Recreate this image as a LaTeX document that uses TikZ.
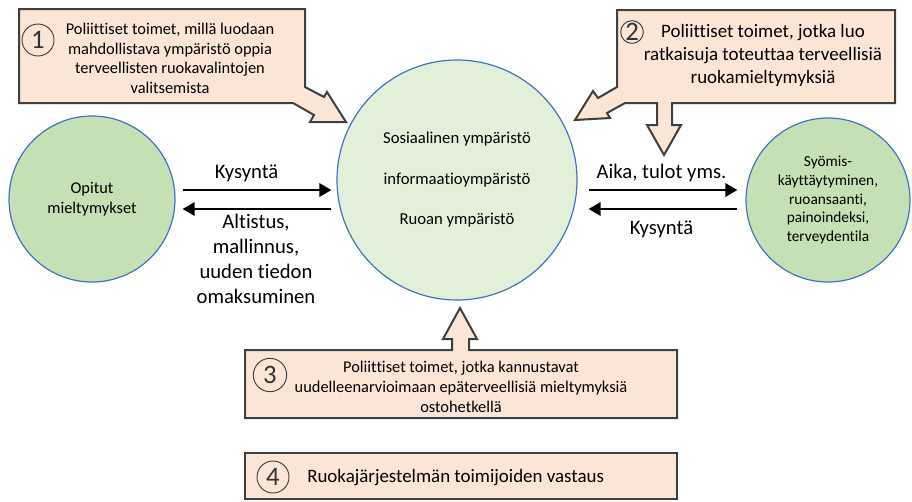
\documentclass[tikz,border=0pt]{standalone}
\usepackage{fontspec}
\setmainfont{Carlito}[Ligatures=NoCommon]
\usetikzlibrary{arrows.meta}
\definecolor{calloutfill}{HTML}{FBE5D6}
\definecolor{calloutline}{HTML}{3F3F3F}
\definecolor{envgreen}{HTML}{C5E0B4}
\definecolor{envpale}{HTML}{E2F0D9}
\definecolor{envline}{HTML}{4472C4}
\begin{document}
\begin{tikzpicture}[
		x=0.75pt, y=-0.75pt,
		callout/.style={draw=calloutline, fill=calloutfill, line width=1.5pt},
		env/.style={circle, draw=envline, line width=0.9pt, inner sep=0pt, align=center},
		num/.style={circle, draw=calloutline, line width=0.7pt, inner sep=0pt, text=black!80, font=\fontsize{20}{20}\selectfont},
		flow/.style={line width=1.6pt, -{Triangle[length=9pt,width=10pt]}},
		lbl/.style={inner sep=0pt, align=center, font=\fontsize{15.5}{18.75}\selectfont},
		small/.style={inner sep=0pt, align=center, font=\fontsize{12.3}{14.6}\selectfont},
		large/.style={inner sep=0pt, align=center, font=\fontsize{14.2}{17.25}\selectfont}
	]
	\useasboundingbox (0,0) rectangle (912,501);
	\draw[callout] (19,9) -- (305,9) -- (305,87) -- (324,97) -- (327,92) -- (346,122)
		-- (310,122) -- (314,115) -- (293,103) -- (19,103) -- cycle;
	\draw[callout] (617,10) -- (895,10) -- (895,103) -- (672,103) -- (672,125) -- (681,125)
		-- (664,155) -- (647,125) -- (657,125) -- (657,103) -- (625,103) -- (607,113)
		-- (610,118) -- (575,120) -- (593,91) -- (598,98) -- (617,87) -- cycle;
	\draw[callout] (245,350) -- (452,350) -- (452,339) -- (443,339) -- (460,308) -- (477,339)
		-- (469,339) -- (469,350) -- (677,350) -- (677,418) -- (245,418) -- cycle;
	\draw[callout] (245,453) rectangle (677,499);
	\node[num, minimum size=24pt] (n1) at (38,40) {1};
	\node[num, minimum size=17pt] (n2) at (632,32) {2};
	\node[num, minimum size=25pt] (n3) at (270,375) {3};
	\node[num, minimum size=24pt] (n4) at (273,477) {4};
	\node[small, anchor=north] (t1) at (170,23) {Poliittiset toimet, millä luodaan\\mahdollistava ympäristö oppia\\terveellisten ruokavalintojen\\valitsemista};
	\node[large, anchor=north] (t2) at (763,24) {Poliittiset toimet, jotka luo\\ratkaisuja toteuttaa terveellisiä\\ruokamieltymyksiä};
	\node[small, anchor=north, font=\fontsize{12.3}{15}\selectfont] (t3) at (461,361) {Poliittiset toimet, jotka kannustavat\\uudelleenarvioimaan epäterveellisiä mieltymyksiä\\ostohetkellä};
	\node[large, anchor=base west] (t4) at (307,482) {Ruokajärjestelmän toimijoiden vastaus};
	\node[env, fill=envpale, minimum size=180pt, font=\fontsize{12.5}{30.4}\selectfont] (sos) at (457,180) {Sosiaalinen ympäristö\\informaatioympäristö\\Ruoan ympäristö};
	\node[env, fill=envgreen, minimum size=124.5pt, font=\fontsize{12.3}{15}\selectfont] (opitut) at (92,199) {Opitut\\mieltymykset};
	\node[env, fill=envgreen, minimum size=123pt, font=\fontsize{11.5}{13.9}\selectfont] (syom) at (828,200) {Syömis-\\käyttäytyminen,\\ruoansaanti,\\painoindeksi,\\terveydentila};
	\coordinate (la) at ([yshift=6.75pt]opitut.east);
	\coordinate (lb) at ([yshift=-7.5pt]opitut.east);
	\coordinate (ra) at ([yshift=7.5pt]syom.west);
	\coordinate (rb) at ([yshift=-6.75pt]syom.west);
	\draw[flow, shorten <=5.25pt, shorten >=3.75pt] (la) -- (la -| sos.west) node[lbl, midway, above=5pt, xshift=-7pt] (kys1) {Kysyntä};
	\draw[flow, shorten <=3.75pt, shorten >=5.25pt] (lb -| sos.west) -- (lb) node[lbl, midway, below=3pt] (alt) {Altistus,\\mallinnus,\\uuden tiedon\\omaksuminen};
	\draw[flow, shorten <=8.25pt, shorten >=6pt] (ra -| sos.east) -- (ra) node[lbl, midway, above=5pt] (aika) {Aika, tulot yms.};
	\draw[flow, shorten <=6pt, shorten >=8.25pt] (rb) -- (rb -| sos.east) node[lbl, midway, below=8pt] (kys2) {Kysyntä};
\end{tikzpicture}
\end{document}
